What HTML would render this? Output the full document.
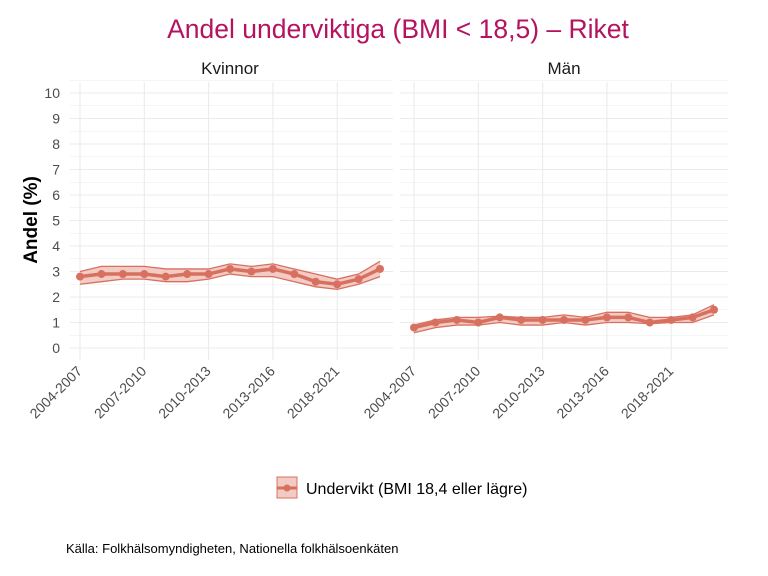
<!DOCTYPE html>
<html><head><meta charset="utf-8"><style>
body{margin:0;background:#fff;}
svg{display:block;font-family:"Liberation Sans",sans-serif;}
</style></head><body>
<svg id="s" width="768" height="576" xmlns="http://www.w3.org/2000/svg">
<rect width="768" height="576" fill="#fff"/>
<text x="398" y="38" text-anchor="middle" font-size="26.5" fill="#b5135f">Andel underviktiga (BMI &lt; 18,5) – Riket</text>
<text x="230" y="74" text-anchor="middle" font-size="17" fill="#1a1a1a">Kvinnor</text>
<text x="564" y="74" text-anchor="middle" font-size="17" fill="#1a1a1a">Män</text>
<text transform="translate(37,220) rotate(-90)" text-anchor="middle" font-size="19" font-weight="bold" fill="#000">Andel (%)</text>
<g id="g"></g>
<rect x="277" y="477" width="20" height="21" fill="#f2cbc4" stroke="#d87060" stroke-width="1"/>
<line x1="277" y1="488" x2="297" y2="488" stroke="#d87060" stroke-width="3"/>
<circle cx="287" cy="488" r="3.5" fill="#d87060"/>
<text x="306" y="494" font-size="16" fill="#000">Undervikt (BMI 18,4 eller lägre)</text>
<text x="66" y="553" font-size="13" fill="#000">Källa: Folkhälsomyndigheten, Nationella folkhälsoenkäten</text>
</svg>
<script>
const g=document.getElementById('g');let h='';
const Y=v=>348-v*25.5;
const panels=[{x0:70,x1:393,off:0},{x0:400,x1:728,off:334}];
const labs=['2004-2007','2007-2010','2010-2013','2013-2016','2018-2021'];
for(const p of panels){
 for(let v=0;v<=10.5;v+=0.5){const y=Y(v);h+=`<line x1="${p.x0}" x2="${p.x1}" y1="${y}" y2="${y}" stroke="#ebebeb" stroke-width="${v%1?0.6:1.1}"/>`;}
 for(let i=0;i<5;i++){const x=80+p.off+i*64.3;h+=`<line x1="${x}" x2="${x}" y1="82" y2="360" stroke="#ebebeb" stroke-width="1.1"/>`;
  h+=`<text transform="translate(${x+3},${372}) rotate(-45)" text-anchor="end" font-size="14" fill="#4d4d4d">${labs[i]}</text>`;}
}
for(let v=0;v<=10;v++)h+=`<text x="60" y="${Y(v)+5}" text-anchor="end" font-size="14" fill="#4d4d4d">${v}</text>`;
const series=[
 {off:0,v:[2.8,2.9,2.9,2.9,2.8,2.9,2.9,3.1,3.0,3.1,2.9,2.6,2.5,2.7,3.1],
  u:[3.0,3.2,3.2,3.2,3.1,3.1,3.1,3.3,3.2,3.3,3.1,2.9,2.7,2.9,3.4],
  l:[2.5,2.6,2.7,2.7,2.6,2.6,2.7,2.9,2.8,2.8,2.6,2.4,2.3,2.5,2.8]},
 {off:334,v:[0.8,1.0,1.1,1.0,1.2,1.1,1.1,1.1,1.1,1.2,1.2,1.0,1.1,1.2,1.5],
  u:[0.9,1.1,1.2,1.2,1.25,1.2,1.2,1.3,1.2,1.4,1.4,1.2,1.2,1.3,1.7],
  l:[0.6,0.8,0.9,0.9,1.0,0.9,0.9,1.0,0.9,1.0,1.0,0.95,1.0,1.0,1.3]}];
for(const s of series){
 const X=i=>80+s.off+i*21.43;
 const up=s.u.map((v,i)=>`${X(i)},${Y(v)}`),lo=s.l.map((v,i)=>`${X(i)},${Y(v)}`);
 h+=`<polygon points="${up.join(' ')} ${lo.slice().reverse().join(' ')}" fill="#f2cbc4"/>`;
 h+=`<polyline points="${up.join(' ')}" fill="none" stroke="#d87060" stroke-width="1.3"/>`;
 h+=`<polyline points="${lo.join(' ')}" fill="none" stroke="#d87060" stroke-width="1.3"/>`;
 h+=`<polyline points="${s.v.map((v,i)=>`${X(i)},${Y(v)}`).join(' ')}" fill="none" stroke="#d87060" stroke-width="3.5"/>`;
 s.v.forEach((v,i)=>h+=`<circle cx="${X(i)}" cy="${Y(v)}" r="4" fill="#d87060"/>`);
}
g.innerHTML=h;
</script>
</body></html>
